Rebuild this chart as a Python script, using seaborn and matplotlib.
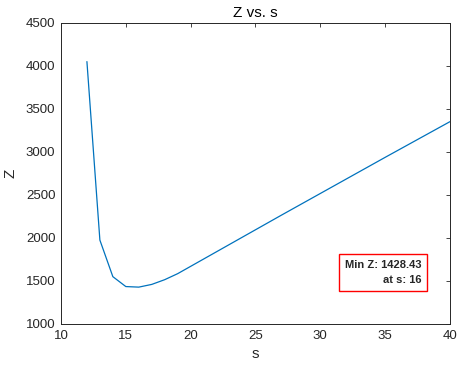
import numpy as np
import pandas as pd
import seaborn as sns
import matplotlib
matplotlib.use("Agg")
import matplotlib.pyplot as plt

# values
s_vals = list(range(12, 41))
z_vals = [4050, 1975, 1550, 1435, 1428.43, 1460, 1515, 1585, 1670, 1755,
          1840, 1925, 2010, 2095, 2180, 2265, 2349, 2433, 2517, 2601,
          2685, 2769, 2853, 2937, 3020, 3103, 3186, 3269, 3352]
x_ticks = [10, 15, 20, 25, 30, 35, 40]
y_ticks = [1000, 1500, 2000, 2500, 3000, 3500, 4000, 4500]

df = pd.DataFrame({"s": s_vals, "Z": z_vals})

sns.set_style("white")
plt.rcParams["font.family"] = ["Liberation Sans", "DejaVu Sans"]

fig = plt.figure(figsize=(4.62, 3.69), dpi=100)
ax = fig.add_axes([0.132, 0.122, 0.842, 0.816])

sns.lineplot(data=df, x="s", y="Z", color="#0072BD", linewidth=0.9, ax=ax)

ax.set_xlim(10, 40)
ax.set_ylim(1000, 4500)
ax.set_xticks(x_ticks)
ax.set_yticks(y_ticks)
ax.tick_params(direction="in", length=3, width=0.6, colors="#262626",
               labelsize=9.5, top=True, right=True, pad=4)
for sp in ax.spines.values():
    sp.set_color("#262626")
    sp.set_linewidth(0.7)

ax.set_xlabel("s", fontsize=11, color="#262626", labelpad=4)
ax.set_ylabel("Z", fontsize=11, color="#262626", labelpad=6)
ax.set_title("Z vs. s", fontsize=11, color="black", pad=4)

i_min = int(np.argmin(z_vals))
ax.text(0.926, 0.171, f"Min Z: {z_vals[i_min]:.2f}\nat s: {s_vals[i_min]}",
        transform=ax.transAxes, ha="right", va="center", fontsize=8,
        fontweight="bold", linespacing=1.6,
        bbox=dict(boxstyle="square,pad=0.55", facecolor="white",
                  edgecolor="#FF0000", linewidth=1.0))

fig.savefig("out.png", dpi=100)
